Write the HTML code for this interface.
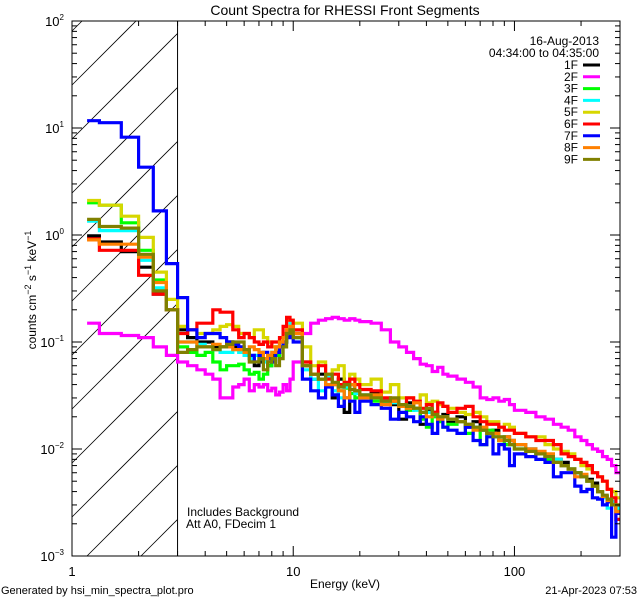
<!DOCTYPE html>
<html><head><meta charset="utf-8"><style>
html,body{margin:0;padding:0;background:#fff;width:640px;height:600px;overflow:hidden;}
svg{display:block;font-family:"Liberation Sans",sans-serif;}
</style></head><body>
<svg id="chart" width="640" height="600" xmlns="http://www.w3.org/2000/svg">
<rect width="640" height="600" fill="#fff"/>
<text x="345" y="15" font-size="14" text-anchor="middle">Count Spectra for RHESSI Front Segments</text>
<defs><clipPath id="pc"><rect x="72" y="21" width="548" height="535"/></clipPath></defs>
<g id="hatch"></g>
<g id="series" clip-path="url(#pc)"></g>
<g id="axes"></g>
<g id="legend"></g>
<text x="187" y="516" font-size="12">Includes Background</text>
<text x="186" y="528" font-size="12">Att A0, FDecim 1</text>
<text x="345" y="588" font-size="12" text-anchor="middle">Energy (keV)</text>
<text transform="translate(36,290) rotate(-90)" font-size="12" text-anchor="middle">counts cm<tspan dy="-5" font-size="9">−2</tspan><tspan dy="5"> s</tspan><tspan dy="-5" font-size="9">−1</tspan><tspan dy="5"> keV</tspan><tspan dy="-5" font-size="9">−1</tspan></text>
<text x="1" y="594" font-size="11">Generated by hsi_min_spectra_plot.pro</text>
<text x="637" y="594" font-size="11" text-anchor="end">21-Apr-2023 07:53</text>
</svg>
<script>
const edges=[1.17,1.33,1.67,2,2.33,2.67,3,3.33,3.67,4,4.33,4.67,5,5.33,5.67,6,6.33,6.67,7,7.33,7.67,8,8.33,8.67,9,9.33,9.67,10,11,12,13,14,15,16,17,18,19,20,22.5,25,27.5,30,32.5,35,37.5,40,42.5,45,47.5,50,55,60,65,70,75,80,85,90,95,100,112.5,125,137.5,150,162.5,175,187.5,200,212.5,225,237.5,250,262.5,275,287.5,300];
const seriesNames=["1F","2F","3F","4F","5F","6F","7F","8F","9F"];
const seriesColors=["#000000","#ff00ff","#00ff00","#00ffff","#d7d700","#ff0000","#0000ff","#ff8000","#808000"];
const s1F=[0.98,0.86,0.7,0.5,0.28,0.2, 0.13,0.11,0.1,0.1,0.09,0.09,0.1,0.09,0.085,0.08,0.07,0.06,0.065,0.07,0.06,0.075,0.08,0.09,0.1,0.12,0.13, 0.12,0.06,0.045,0.05,0.04,0.03,0.045,0.022,0.04,0.035, 0.03,0.033,0.028,0.026,0.019,0.027,0.024,0.017,0.023,0.022,0.02,0.021, 0.018,0.02,0.016,0.018,0.015,0.014,0.015,0.012,0.013,0.012, 0.011,0.01,0.009,0.0085,0.008,0.0075,0.0065,0.006,0.0055,0.0052,0.0048,0.004,0.0036,0.0034,0.0032,0.0028];
const s2F=[0.15,0.12,0.115,0.11,0.09,0.075, 0.065,0.06,0.055,0.05,0.045,0.03,0.03,0.038,0.04,0.045,0.035,0.04,0.038,0.04,0.035,0.037,0.032,0.034,0.04,0.035,0.045, 0.065,0.12,0.15,0.16,0.165,0.17,0.165,0.16,0.165,0.16, 0.155,0.15,0.13,0.1,0.09,0.08,0.07,0.062,0.06,0.053,0.058,0.05, 0.048,0.045,0.042,0.038,0.03,0.029,0.03,0.028,0.029,0.026, 0.023,0.022,0.02,0.019,0.017,0.016,0.015,0.013,0.012,0.011,0.01,0.0095,0.0085,0.008,0.007,0.006];
const s3F=[2.0,1.9,1.3,0.72,0.38,0.2, 0.09,0.08,0.075,0.08,0.065,0.055,0.06,0.06,0.062,0.055,0.05,0.052,0.045,0.05,0.06,0.07,0.075,0.09,0.1,0.12,0.14, 0.11,0.065,0.05,0.045,0.04,0.04,0.035,0.037,0.033,0.03, 0.03,0.028,0.027,0.029,0.025,0.023,0.024,0.019,0.016,0.02,0.018,0.016, 0.017,0.018,0.014,0.016,0.011,0.015,0.013,0.012,0.011,0.011, 0.01,0.0095,0.009,0.008,0.0075,0.007,0.0065,0.006,0.0055,0.005,0.0045,0.004,0.0036,0.0032,0.003,0.0027];
const s4F=[1.35,1.1,1.1,0.58,0.32,0.2, 0.1,0.1,0.095,0.09,0.085,0.08,0.08,0.085,0.08,0.075,0.07,0.075,0.07,0.065,0.07,0.08,0.09,0.1,0.11,0.13,0.15, 0.11,0.055,0.045,0.035,0.048,0.035,0.03,0.038,0.036,0.033, 0.032,0.03,0.028,0.027,0.026,0.025,0.023,0.022,0.022,0.021,0.02,0.02, 0.019,0.018,0.017,0.016,0.015,0.014,0.013,0.013,0.012,0.011, 0.011,0.01,0.009,0.0085,0.008,0.007,0.0065,0.006,0.0055,0.005,0.0045,0.004,0.0035,0.0028,0.0032,0.0028];
const s5F=[2.1,1.9,1.5,0.95,0.45,0.25, 0.14,0.13,0.12,0.12,0.13,0.14,0.145,0.14,0.12,0.12,0.11,0.13,0.13,0.11,0.1,0.09,0.085,0.09,0.12,0.16,0.16, 0.15,0.09,0.06,0.065,0.05,0.055,0.06,0.04,0.05,0.045, 0.04,0.045,0.034,0.04,0.03,0.03,0.028,0.032,0.027,0.028,0.026,0.025, 0.024,0.022,0.021,0.022,0.02,0.018,0.018,0.016,0.017,0.016, 0.014,0.013,0.013,0.011,0.01,0.0095,0.009,0.008,0.007,0.0065,0.006,0.0055,0.005,0.0042,0.004,0.0035];
const s6F=[0.92,0.72,0.72,0.42,0.28,0.2, 0.12,0.13,0.15,0.15,0.2,0.19,0.19,0.13,0.11,0.12,0.11,0.1,0.095,0.1,0.09,0.1,0.1,0.11,0.14,0.17,0.16, 0.13,0.065,0.05,0.06,0.045,0.05,0.04,0.042,0.045,0.04, 0.036,0.035,0.03,0.028,0.026,0.03,0.028,0.024,0.026,0.022,0.027,0.025, 0.022,0.024,0.025,0.02,0.018,0.017,0.017,0.016,0.015,0.015, 0.014,0.013,0.012,0.012,0.011,0.009,0.0085,0.008,0.0075,0.007,0.006,0.0055,0.005,0.0042,0.0035,0.0022];
const s7F=[11.7,11.2,8.2,4.3,1.68,0.54, 0.26,0.13,0.11,0.12,0.12,0.11,0.1,0.095,0.09,0.085,0.075,0.065,0.075,0.08,0.07,0.065,0.08,0.09,0.1,0.11,0.13, 0.1,0.045,0.035,0.03,0.038,0.032,0.025,0.03,0.028,0.022, 0.028,0.026,0.024,0.019,0.022,0.02,0.018,0.02,0.017,0.014,0.019,0.016, 0.015,0.014,0.016,0.012,0.011,0.013,0.009,0.011,0.01,0.007, 0.009,0.0085,0.008,0.0075,0.0055,0.006,0.006,0.0045,0.004,0.0042,0.0035,0.0034,0.003,0.0032,0.0015,0.0025];
const s8F=[0.9,0.82,0.82,0.62,0.36,0.2, 0.1,0.1,0.09,0.09,0.095,0.09,0.09,0.085,0.085,0.08,0.09,0.085,0.08,0.07,0.075,0.08,0.09,0.1,0.11,0.13,0.14, 0.12,0.06,0.05,0.045,0.04,0.04,0.035,0.03,0.04,0.035, 0.03,0.032,0.026,0.028,0.025,0.024,0.027,0.022,0.02,0.021,0.019,0.02, 0.019,0.018,0.017,0.015,0.016,0.014,0.014,0.012,0.013,0.012, 0.011,0.01,0.0095,0.009,0.0075,0.007,0.0065,0.0055,0.0058,0.005,0.0045,0.004,0.0036,0.0033,0.003,0.0026];
const s9F=[1.4,1.2,1.16,0.66,0.3,0.2, 0.08,0.085,0.09,0.09,0.085,0.09,0.095,0.1,0.1,0.085,0.065,0.065,0.07,0.055,0.065,0.07,0.06,0.07,0.09,0.12,0.13, 0.11,0.06,0.05,0.045,0.05,0.042,0.038,0.04,0.036,0.035, 0.032,0.03,0.028,0.03,0.026,0.025,0.024,0.022,0.024,0.021,0.02,0.02, 0.019,0.018,0.017,0.016,0.015,0.014,0.013,0.013,0.012,0.011, 0.01,0.0095,0.009,0.0085,0.0075,0.007,0.0065,0.006,0.0055,0.005,0.0045,0.004,0.0037,0.0034,0.003,0.003];
const allSeries=[s1F,s2F,s3F,s4F,s5F,s6F,s7F,s8F,s9F];
const xTickVals=[1,10,100];
const xTickLabels=["1","10","100"];
const yTickExps=[-3,-2,-1,0,1,2];

const NS="http://www.w3.org/2000/svg";
const L=72,R=620,T=21,B=556;
const xMin=1,xMax=300,yMin=-3,yMax=2;
function xs(e){return L+(Math.log10(e)-Math.log10(xMin))/(Math.log10(xMax)-Math.log10(xMin))*(R-L);}
function ys(v){return B-(Math.log10(v)-yMin)/(yMax-yMin)*(B-T);}
function mk(tag,attrs,parent){const el=document.createElementNS(NS,tag);for(const k in attrs)el.setAttribute(k,attrs[k]);parent.appendChild(el);return el;}

const hatch=document.getElementById('hatch');
const hx=xs(3);
mk('line',{x1:hx,y1:T,x2:hx,y2:B,stroke:'#000','stroke-width':1},hatch);
for(let c=85-54*2;c<B+(hx-L);c+=54){
  let sx=L,sy=c;
  if(sy>B){sx=L+(sy-B);sy=B;}
  let ex=Math.min(hx,L+(c-T));
  let ey=c-(ex-L);
  if(ex<=sx)continue;
  const ln=mk('line',{x1:sx,y1:sy,x2:ex,y2:ey,stroke:'#000','stroke-width':0.8},hatch);
  
  
}

const sg=document.getElementById('series');
allSeries.forEach((vals,si)=>{
  let d='';
  vals.forEach((v,i)=>{
    const x0=xs(edges[i]),x1=xs(edges[i+1]),y=ys(v);
    d+=(i===0?'M':'L')+x0.toFixed(1)+','+y.toFixed(1)+'L'+x1.toFixed(1)+','+y.toFixed(1);
  });
  const p=mk('path',{d:d,fill:'none',stroke:seriesColors[si],'stroke-width':3.2,'stroke-linejoin':'miter'},sg);
  
  
});

const ax=document.getElementById('axes');
const frame=mk('rect',{x:L,y:T,width:R-L,height:B-T,fill:'none',stroke:'#000','stroke-width':1},ax);


for(let dec=0;dec<=2;dec++){
  for(let m=1;m<=9;m++){
    const e=Math.pow(10,dec)*m; if(e>xMax)break;
    const x=xs(e),len=m===1?10:5;
    mk('line',{x1:x,y1:B,x2:x,y2:B-len,stroke:'#000'},ax);
    mk('line',{x1:x,y1:T,x2:x,y2:T+len,stroke:'#000'},ax);
  }
}
xTickVals.forEach((v,i)=>{
  const t=mk('text',{x:xs(v),y:B+20,'font-size':13,'text-anchor':'middle'},ax);
  t.textContent=xTickLabels[i];
  
  
});
for(let ex=yMin;ex<=yMax;ex++){
  for(let m=1;m<=9;m++){
    if(ex===yMax&&m>1)break;
    const y=ys(m*Math.pow(10,ex)),len=m===1?10:5;
    mk('line',{x1:L,y1:y,x2:L+len,y2:y,stroke:'#000'},ax);
    mk('line',{x1:R,y1:y,x2:R-len,y2:y,stroke:'#000'},ax);
  }
}
yTickExps.forEach(ex=>{
  const t=mk('text',{x:L-8,y:ys(Math.pow(10,ex))+5,'font-size':13,'text-anchor':'end'},ax);
  t.textContent='10';
  const s=mk('tspan',{dy:-6,'font-size':8},t);
  s.textContent=String(ex).replace('-','−');
  
  
});

const lg=document.getElementById('legend');
const d1=mk('text',{x:599,y:45,'font-size':12,'text-anchor':'end'},lg);
d1.textContent='16-Aug-2013';
const d2=mk('text',{x:599,y:57,'font-size':12,'text-anchor':'end'},lg);
d2.textContent='04:34:00 to 04:35:00';
seriesNames.forEach((n,i)=>{
  const y=65+i*11.8;
  const t=mk('text',{x:578,y:y+4,'font-size':12,'text-anchor':'end'},lg);
  t.textContent=n;
  
  
  const l=mk('line',{x1:583,y1:y,x2:600,y2:y,stroke:seriesColors[i],'stroke-width':3},lg);
  
  
});
</script>
</body></html>
